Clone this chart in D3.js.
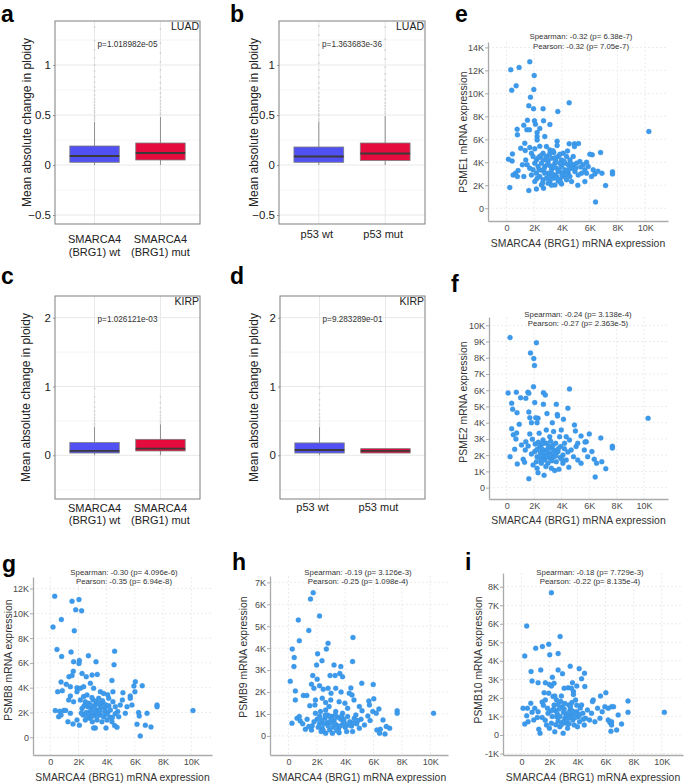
<!DOCTYPE html>
<html lang="en">
<head>
<meta charset="UTF-8">
<title>Ploidy change and proteasome gene expression</title>
<script src="https://d3js.org/d3.v7.min.js"></script>
<style>
    body { margin: 0; background: #fff; }
    svg { display: block; font-family: "Liberation Sans", Arial, sans-serif; }
    .letter { font-size: 23px; font-weight: bold; fill: #000; }
    .box-tick text { font-size: 11.5px; fill: #222; }
    .box-tick line { stroke: #999; }
    .box-tick .domain { display: none; }
    .box-title { font-size: 12px; fill: #222; text-anchor: middle; }
    .box-xlab { font-size: 11px; fill: #222; text-anchor: middle; }
    .ptext { font-size: 8.2px; fill: #333; text-anchor: middle; }
    .cancer { font-size: 10.5px; fill: #222; text-anchor: end; }
    .sc-axis text { font-size: 9px; fill: #4a4a4a; }
    .sc-axis line { stroke: #aaa; }
    .sc-axis .domain { stroke: #aaa; stroke-width: 1.3px; }
    .sc-title { font-size: 10.4px; fill: #333; text-anchor: middle; }
    .corr { font-size: 7.8px; fill: #333; text-anchor: middle; }
</style>
</head>
<body>
<div id="chart"></div>
<script>
// ---------- box plot data ----------
const smarcaGroups = ["SMARCA4\n(BRG1) wt", "SMARCA4\n(BRG1) mut"];
const p53Groups = ["p53 wt", "p53 mut"];
const boxColors = ["#5151f3", "#e60b3d"];

// [lower whisker, q1, median, q3, upper whisker]
const luadSmarca = [[0, 0.027, 0.09, 0.19, 0.43], [0, 0.05, 0.12, 0.22, 0.48]];
const luadP53 = [[0, 0.027, 0.085, 0.18, 0.43], [0, 0.045, 0.115, 0.22, 0.49]];
const kirpSmarca = [[0, 0.033, 0.063, 0.185, 0.41], [0, 0.063, 0.097, 0.232, 0.45]];
const kirpP53 = [[0, 0.033, 0.077, 0.18, 0.41], [0.033, 0.033, 0.063, 0.097, 0.097]];

const luadSmarcaOut = [
    [0.45, 0.47, 0.49, 0.52, 0.54, 0.57, 0.6, 0.63, 0.66, 0.7, 0.74, 0.78, 0.83, 0.88, 0.94, 1.0, 1.07, 1.15, 1.24, 1.38],
    [0.5, 0.52, 0.55, 0.58, 0.61, 0.64, 0.68, 0.72, 0.77, 0.82, 0.88, 0.95, 1.03, 1.12, 1.22, 1.36]
];
const luadP53Out = [
    [0.44, 0.46, 0.49, 0.51, 0.54, 0.57, 0.6, 0.64, 0.68, 0.72, 0.77, 0.82, 0.88, 0.95, 1.02, 1.1, 1.2, 1.3, 1.39],
    [0.51, 0.53, 0.56, 0.59, 0.62, 0.66, 0.7, 0.74, 0.79, 0.85, 0.91, 0.98, 1.06, 1.15, 1.26, 1.38]
];
const kirpSmarcaOut = [
    [0.43, 0.46, 0.5, 0.54, 0.59, 0.64, 0.7, 0.77, 0.85, 0.97],
    [0.47, 0.5, 0.54, 0.58, 0.63, 0.69, 0.76, 0.85]
];
const kirpP53Out = [
    [0.43, 0.46, 0.5, 0.55, 0.6, 0.66, 0.73, 0.81, 0.9, 0.99],
    []
];

// ---------- scatter data: [SMARCA4, gene] in thousands ----------
const psme1 = [
    [0.31,12.05],[0.91,12.26],[1.68,12.75],[2.0,11.56],[0.38,10.28],[0.7,10.66],[1.97,10.34],[1.73,9.67],[1.61,8.92],[1.95,8.66],
    [2.64,8.66],[3.7,8.42],[4.52,9.18],[0.77,6.88],[0.79,6.39],[1.25,7.23],[1.51,7.67],[1.47,6.83],[1.66,6.83],[2.02,7.61],
    [2.09,7.32],[2.67,7.61],[3.13,7.29],[2.4,6.94],[10.26,6.68],[0.43,4.73],[0.14,4.27],[0.24,1.8],[0.41,4.12],[0.48,2.9],
    [0.65,3.05],[0.84,3.28],[0.79,2.76],[1.03,5.23],[1.32,5.66],[1.35,5.02],[1.15,3.78],[1.25,2.76],[1.61,1.54],[2.16,1.68],
    [2.67,1.74],[3.73,2.38],[5.14,2.0],[6.42,0.55],[7.14,1.97],[6.78,4.85],[6.18,4.65],[6.01,4.7],[7.64,3.17],[7.64,2.99],
    [6.88,3.05],[6.25,3.34],[6.37,2.99],[6.59,3.22],[4.52,5.61],[4.9,5.61],[5.19,5.63],[4.9,5.37],[4.4,4.99],[3.65,5.84],
    [3.65,5.46],[2.76,6.24],[2.21,6.24],[2.21,5.95],[2.21,6.59],[2.4,5.4],[1.68,5.29],[1.8,4.79],[1.92,4.5],[2.04,5.17],
    [2.88,5.37],[3.13,5.08],[3.41,4.85],[2.16,4.21],[2.4,4.5],[2.64,4.79],[2.88,4.5],[3.0,4.07],[3.25,4.36],[3.49,3.92],
    [3.73,4.5],[3.97,4.21],[4.21,3.92],[4.09,4.79],[4.33,4.5],[4.57,4.21],[4.81,3.78],[5.05,3.92],[5.29,4.07],[5.53,3.78],
    [5.77,4.01],[5.89,3.63],[5.65,3.34],[5.41,3.05],[5.17,2.9],[4.93,3.19],[4.69,3.49],[4.45,3.05],[4.21,3.34],[3.97,3.63],
    [3.73,3.19],[3.49,2.9],[3.25,3.34],[3.0,3.05],[2.76,3.63],[2.52,3.92],[2.28,3.63],[2.04,3.92],[1.92,3.34],[2.16,3.05],
    [2.4,2.76],[2.64,2.47],[2.88,2.61],[3.13,2.32],[3.37,2.61],[3.61,2.76],[3.85,2.47],[4.09,2.76],[4.33,2.47],[4.57,2.76],
    [3.97,2.12],[3.49,2.03],[3.0,2.18],[2.52,2.03],[2.04,2.32],[1.8,2.9],[1.68,3.49],[1.49,3.78],[1.39,4.21],[2.64,4.21],
    [3.37,3.63],[3.85,3.92],[4.45,3.78],[4.81,4.5],[2.76,3.05],[3.61,3.49],[4.33,3.19],[4.69,2.32],[5.65,2.32],[6.13,2.76],
    [5.77,3.05],[3.1,4.7],[3.55,4.15],[2.95,3.8],[4.6,3.95],[3.3,2.95],[4.05,3.05],[2.3,4.4],[3.85,4.7],[2.55,3.3],
    [2.5,4.6],[2.7,3.4],[3.15,3.7],[3.5,4.4],[3.8,3.3],[4.15,4.1],[4.5,3.4],[2.9,4.25],[3.35,5.0],[4.0,2.9],
    [2.35,3.35],[3.05,2.7],[3.7,2.55],[4.3,2.9],[2.6,2.2],[3.25,2.0],[5.0,3.5],[5.35,3.6],[2.2,2.6],[3.9,2.25]
];
const psme2 = [
    [0.24,9.24],[2.16,8.93],[1.73,8.3],[1.97,7.95],[2.02,7.52],[1.95,6.22],[4.57,6.08],[10.29,4.27],[0.1,5.83],[0.7,5.87],
    [0.36,5.2],[0.43,4.83],[0.75,4.62],[1.01,5.54],[1.39,5.5],[1.54,5.87],[1.61,5.81],[2.04,5.24],[2.67,5.85],[2.81,5.71],
    [2.67,5.13],[3.61,5.13],[3.68,4.5],[3.7,4.41],[2.93,4.56],[2.28,4.27],[2.11,4.31],[1.68,4.31],[1.61,4.66],[1.8,4.0],
    [2.21,4.0],[0.91,3.9],[0.36,3.63],[0.48,3.26],[0.72,3.37],[0.67,3.0],[0.58,2.36],[0.24,1.91],[0.77,1.46],[1.2,1.75],
    [1.3,1.56],[1.61,0.55],[2.72,0.76],[6.44,0.66],[7.21,1.17],[7.69,2.55],[7.69,2.44],[6.85,3.06],[6.01,3.31],[5.79,2.83],
    [5.7,2.81],[4.93,3.86],[5.0,3.49],[4.13,4.21],[4.45,4.89],[3.32,4.0],[1.08,2.63],[1.35,2.32],[1.39,2.83],[1.56,2.57],
    [1.68,3.31],[1.87,2.98],[2.07,2.69],[2.04,2.22],[2.21,1.91],[1.92,1.4],[2.21,1.19],[2.28,0.92],[2.52,1.5],[2.76,1.7],
    [2.4,2.53],[2.64,2.32],[2.88,2.73],[3.08,2.12],[3.25,2.42],[3.41,1.91],[3.56,2.73],[3.73,2.22],[3.92,2.53],[4.09,2.01],
    [3.0,1.5],[3.25,1.19],[3.49,1.05],[3.8,1.13],[4.09,1.5],[4.33,1.7],[4.52,1.25],[4.69,2.32],[4.86,1.91],[5.05,2.53],
    [5.17,1.7],[5.41,1.5],[5.65,2.32],[5.89,1.91],[6.2,2.22],[6.37,1.75],[6.54,1.5],[6.92,1.6],[4.33,3.14],[4.57,2.94],
    [4.21,2.73],[3.85,3.14],[3.13,3.14],[2.64,2.94],[2.36,3.35],[2.88,3.55],[3.41,3.45],[3.97,3.55],[5.41,3.18],[5.17,2.73],
    [2.52,1.7],[3.13,1.81],[3.61,1.6],[2.16,1.6],[1.8,2.07],[2.95,2.35],[3.35,2.6],[2.45,2.15],[3.9,1.85],[2.7,1.95],
    [3.2,2.85],[4.45,2.2],[2.3,2.8],[3.6,2.1],[2.85,1.3],[2.55,2.4],[3.05,2.55],[3.45,2.3],[2.75,2.15],[3.3,1.65],
    [2.4,1.85],[3.75,2.4],[4.2,2.4],[2.9,1.9],[3.55,1.95],[2.6,2.7],[3.15,2.0],[2.2,2.35],[4.0,1.75],[3.4,2.15]
];
const psmb8 = [
    [0.31,11.38],[1.54,10.98],[2.03,11.11],[1.8,10.28],[2.22,10.2],[0.78,9.5],[0.19,8.89],[1.7,8.59],[0.47,7.09],[0.8,6.52],
    [1.47,6.87],[2.06,6.2],[2.03,5.96],[2.7,6.58],[3.24,6.09],[4.56,6.95],[4.52,5.85],[1.65,6.09],[1.63,5.32],[1.32,4.89],
    [1.54,4.99],[2.25,5.15],[2.55,4.89],[2.96,5.02],[3.33,5.07],[4.37,4.59],[0.76,4.46],[0.52,3.68],[0.85,3.76],[1.13,4.27],
    [1.42,4.08],[1.89,4.0],[2.13,3.95],[1.89,3.68],[2.36,4.08],[2.84,4.35],[3.07,3.95],[3.55,3.68],[3.78,3.54],[4.07,3.44],
    [4.44,3.68],[5.15,3.6],[6.03,4.48],[5.93,4.13],[6.52,4.16],[6.0,3.68],[5.67,3.33],[5.67,3.14],[5.11,3.01],[7.57,2.6],
    [7.57,2.47],[10.12,2.15],[6.86,1.93],[6.26,1.99],[6.31,1.72],[6.15,1.05],[6.74,0.97],[7.14,0.83],[6.38,0.11],[0.35,2.15],
    [0.66,2.09],[0.95,2.17],[1.09,2.17],[0.59,1.66],[0.76,1.8],[1.25,1.26],[1.42,1.93],[1.61,1.07],[1.89,1.4],[2.06,0.97],
    [3.19,0.75],[3.07,0.75],[3.95,0.75],[4.56,0.94],[4.73,0.81],[2.48,2.87],[2.65,2.47],[2.84,2.07],[3.03,3.01],[3.19,2.6],
    [3.36,2.2],[3.55,1.8],[3.74,2.79],[3.9,2.39],[4.07,1.99],[4.26,1.61],[4.44,2.87],[4.61,2.47],[4.78,2.07],[4.96,2.6],
    [2.79,1.53],[2.98,1.26],[3.31,1.4],[3.66,1.26],[4.02,1.4],[4.37,1.26],[2.32,1.8],[2.48,1.4],[2.25,2.33],[2.36,3.28],
    [2.6,3.41],[3.43,3.14],[4.14,3.14],[5.44,2.47],[5.79,2.6],[5.32,1.93],[4.85,1.66],[3.07,1.8],[3.78,1.66],[2.72,2.74],
    [3.55,2.6],[4.26,2.2],[3.19,2.07],[2.13,3.01],[1.65,2.87],[1.3,3.01],[1.42,3.33],[2.9,2.3],[3.4,1.95],[3.95,2.6],
    [2.55,2.0],[3.25,2.9],[4.6,1.9],[2.95,1.7],[3.6,2.4],[2.7,1.8],[3.1,2.45],[3.5,2.15],[2.85,2.6],[3.85,2.05],
    [2.4,2.55],[3.3,1.65],[4.15,2.55],[2.6,1.6],[3.7,2.95],[4.4,1.6],[2.2,1.95],[3.45,2.75],[4.0,1.85],[2.95,3.2]
];
const psmb9 = [
    [1.74,6.53],[1.55,6.24],[2.19,5.47],[0.69,5.28],[1.43,4.81],[0.76,4.34],[4.55,4.49],[2.79,4.22],[2.67,3.96],[0.26,3.96],
    [0.4,3.57],[0.38,3.16],[2.05,3.74],[2.36,3.43],[1.98,3.23],[3.21,3.23],[3.69,3.16],[4.52,3.39],[0.12,2.49],[1.71,2.75],
    [2.02,2.58],[2.93,2.75],[3.29,2.75],[3.62,2.85],[3.81,2.7],[5.17,2.4],[5.98,2.34],[0.48,2.05],[0.48,1.64],[1.62,2.35],
    [1.79,2.17],[2.19,2.29],[2.45,2.13],[2.79,2.17],[3.0,1.94],[3.33,2.17],[3.71,2.0],[4.29,1.94],[4.4,2.19],[4.48,1.87],
    [1.05,1.84],[1.29,1.84],[1.5,1.38],[1.9,1.64],[2.38,1.72],[2.62,1.52],[2.98,1.64],[3.57,1.56],[3.98,1.49],[4.17,1.26],
    [4.62,1.64],[5.0,1.34],[5.19,1.15],[5.67,1.59],[5.71,1.41],[6.02,1.69],[6.38,1.23],[5.95,1.11],[7.67,1.15],[7.67,1.03],
    [10.24,1.03],[0.24,0.58],[0.6,0.8],[0.76,0.88],[0.83,0.68],[1.19,0.3],[1.0,0.55],[1.31,0.76],[1.43,0.43],[1.62,0.27],
    [1.9,1.03],[2.02,0.76],[2.19,0.55],[2.38,0.35],[2.57,0.8],[2.74,0.61],[2.9,0.27],[3.05,0.88],[3.21,0.7],[3.38,0.5],
    [3.52,0.3],[3.69,0.76],[3.86,0.58],[4.0,0.4],[4.17,0.88],[4.33,0.65],[4.52,0.2],[4.64,0.8],[4.81,0.55],[5.0,0.35],
    [5.12,0.76],[5.36,0.5],[5.6,0.91],[5.76,0.7],[6.19,1.03],[6.24,0.27],[6.48,0.3],[6.43,0.12],[6.81,0.09],[6.9,0.43],
    [7.14,0.35],[6.67,0.73],[2.26,1.11],[2.62,1.18],[3.33,1.11],[3.81,1.03],[1.86,1.41],[2.86,1.34],[1.67,0.46],[2.62,0.12],
    [3.1,0.12],[3.57,0.15],[2.5,0.55],[2.95,0.6],[3.45,0.85],[4.1,0.2],[2.2,0.9],[3.15,0.4],[3.9,0.75],[2.75,0.95],
    [4.45,0.45],[1.8,0.65],[3.3,0.95],[2.45,0.25],[4.75,0.95],[2.35,0.7],[2.8,0.45],[3.25,0.55],[3.65,0.45],[4.25,0.5],
    [2.1,0.4],[3.0,0.75],[3.75,0.9],[2.6,0.95],[4.6,0.6],[3.4,0.25],[2.9,0.9],[3.95,0.6],[2.3,0.2],[4.9,0.7]
];
const psmb10 = [
    [2.14,7.68],[0.38,5.88],[2.76,5.31],[1.02,4.68],[1.5,4.77],[1.95,4.89],[0.24,4.26],[2.02,4.33],[2.62,4.39],[3.48,3.71],
    [4.12,3.58],[0.69,3.42],[1.38,3.51],[2.62,3.51],[2.93,3.31],[4.5,3.33],[4.29,3.04],[2.21,3.11],[0.76,2.91],[1.19,2.82],
    [1.71,2.82],[2.0,2.73],[2.14,2.64],[2.33,2.79],[3.05,2.52],[3.33,2.55],[3.57,2.52],[3.64,2.82],[3.95,2.64],[4.52,2.61],
    [3.71,2.34],[3.71,2.19],[5.64,2.1],[6.02,2.28],[7.6,1.83],[7.6,1.22],[10.19,1.22],[5.12,1.89],[5.07,1.8],[0.12,1.44],
    [0.43,1.44],[0.67,1.71],[0.76,1.22],[0.38,1.04],[0.24,0.59],[0.48,0.72],[0.88,0.81],[1.14,0.95],[1.24,0.31],[1.33,0.09],
    [1.48,0.95],[1.48,1.78],[1.57,1.6],[1.71,1.89],[1.86,1.44],[1.9,1.17],[1.79,0.54],[2.0,0.36],[2.14,0.63],[2.26,2.07],
    [2.33,1.62],[2.43,1.31],[2.52,0.99],[2.62,0.76],[2.74,0.45],[2.81,1.8],[2.9,1.53],[3.0,1.21],[3.1,0.9],[3.19,0.63],
    [3.29,0.36],[3.38,1.62],[3.48,1.38],[3.57,1.08],[3.67,0.81],[3.76,0.54],[3.86,1.89],[3.95,1.26],[4.05,0.99],[4.14,0.72],
    [4.29,1.62],[4.38,1.17],[4.48,0.54],[4.57,0.9],[4.71,1.35],[4.86,0.81],[5.0,1.17],[5.24,0.72],[5.43,1.44],[5.6,0.9],
    [5.76,1.26],[5.95,1.53],[6.19,1.44],[6.43,1.53],[6.57,1.53],[6.19,0.81],[6.31,0.68],[6.43,0.72],[6.43,0.54],[6.38,0.2],
    [6.79,0.27],[6.9,1.08],[7.14,0.59],[2.38,2.1],[1.62,2.28],[1.95,2.25],[1.19,1.26],[0.95,1.44],[2.38,0.18],[2.98,0.09],
    [2.55,1.15],[3.2,1.05],[2.7,1.4],[3.45,0.95],[2.95,0.7],[3.85,0.95],[4.2,1.45],[2.2,1.0],[3.6,1.75],[2.45,0.55],
    [3.1,1.7],[4.0,0.45],[1.7,0.8],[2.85,2.1],[3.35,1.2],[2.6,1.65],[3.05,1.4],[3.5,1.55],[2.75,1.0],[3.25,0.8],
    [3.8,1.2],[4.15,1.1],[2.3,1.4],[2.85,0.55],[3.4,0.6],[3.95,1.6],[2.1,1.3],[4.4,0.85],[3.65,1.3],[2.5,1.9]
];

// ---------- canvas ----------
const W = 685, H = 783;
const svg = d3.select("#chart").append("svg")
    .attr("width", W).attr("height", H);
svg.append("rect").attr("width", W).attr("height", H).attr("fill", "#fff");

// ---------- box plot panels ----------
function boxPanel(c) {
    const g = svg.append("g");
    const x = d3.scalePoint().domain(c.groups).range([c.left, c.right]).padding(0.6);
    const y = d3.scaleLinear().domain(c.yDomain).range([c.bottom, c.top]);
    const bw = x.step() * 0.75;

    // grid
    g.selectAll(".minor").data(c.minor).join("line")
        .attr("x1", c.left).attr("x2", c.right)
        .attr("y1", d => y(d)).attr("y2", d => y(d))
        .attr("stroke", "#f3f3f3").attr("stroke-width", 0.8);
    g.selectAll(".major").data(c.ticks).join("line")
        .attr("x1", c.left).attr("x2", c.right)
        .attr("y1", d => y(d)).attr("y2", d => y(d))
        .attr("stroke", "#e8e8e8").attr("stroke-width", 1);
    g.selectAll(".vgrid").data(c.groups).join("line")
        .attr("x1", d => x(d)).attr("x2", d => x(d))
        .attr("y1", c.top).attr("y2", c.bottom)
        .attr("stroke", "#e8e8e8").attr("stroke-width", 1);

    // y axis
    g.append("g").attr("class", "box-tick")
        .attr("transform", `translate(${c.left},0)`)
        .call(d3.axisLeft(y).tickValues(c.ticks).tickSize(2).tickPadding(2).tickFormat(d3.format("")));

    // outliers
    c.groups.forEach((grp, i) => {
        g.selectAll(null).data(c.out[i]).join("circle")
            .attr("cx", x(grp)).attr("cy", d => y(d)).attr("r", 0.9)
            .attr("fill", "#bdbdbd").attr("opacity", 0.55);
    });

    // whiskers + boxes
    const rows = c.groups.map((grp, i) => ({ grp, s: c.stats[i], col: boxColors[i] }));
    g.selectAll(".whisk").data(rows).join("line")
        .attr("x1", d => x(d.grp)).attr("x2", d => x(d.grp))
        .attr("y1", d => y(d.s[0])).attr("y2", d => y(d.s[4]))
        .attr("stroke", "#8f8f8f").attr("stroke-width", 1);
    g.selectAll(".box").data(rows).join("rect")
        .attr("x", d => x(d.grp) - bw / 2).attr("width", bw)
        .attr("y", d => y(d.s[3])).attr("height", d => y(d.s[1]) - y(d.s[3]))
        .attr("fill", d => d.col).attr("stroke", "#7d7d7d").attr("stroke-width", 0.8);
    g.selectAll(".med").data(rows).join("line")
        .attr("x1", d => x(d.grp) - bw / 2).attr("x2", d => x(d.grp) + bw / 2)
        .attr("y1", d => y(d.s[2])).attr("y2", d => y(d.s[2]))
        .attr("stroke", "#3a3a3a").attr("stroke-width", 1.8);

    // frame
    g.append("rect").attr("x", c.left).attr("y", c.top)
        .attr("width", c.right - c.left).attr("height", c.bottom - c.top)
        .attr("fill", "none").attr("stroke", "#7f7f7f").attr("stroke-width", 1);

    // texts
    g.append("text").attr("class", "cancer")
        .attr("x", c.right - 1).attr("y", c.top + 9).text(c.cancer);
    g.append("text").attr("class", "ptext")
        .attr("x", (c.left + c.right) / 2).attr("y", c.top + 26).text(c.p);
    g.append("text").attr("class", "box-title")
        .attr("transform", `translate(${c.titleX},${(c.top + c.bottom) / 2}) rotate(-90)`)
        .attr("dy", "0.35em").text("Mean absolute change in ploidy");
    c.groups.forEach(grp => {
        const t = g.append("text").attr("class", "box-xlab")
            .attr("x", x(grp) + c.labDx).attr("y", c.labY);
        grp.split("\n").forEach((line, k) => {
            t.append("tspan").attr("x", x(grp) + c.labDx).attr("dy", k ? 12.5 : 0).text(line);
        });
    });
    g.append("text").attr("class", "letter").attr("x", c.letterX).attr("y", c.letterY).text(c.letter);
}

const luadTicks = [-0.5, 0, 0.5, 1], luadMinor = [-0.25, 0.25, 0.75, 1.25];
const kirpTicks = [0, 1, 2], kirpMinor = [-0.5, 0.5, 1.5];

boxPanel({ letter: "a", letterX: 1, letterY: 22, left: 55, right: 200, top: 21, bottom: 224,
    yDomain: [-0.59, 1.44], ticks: luadTicks, minor: luadMinor, groups: smarcaGroups,
    stats: luadSmarca, out: luadSmarcaOut, cancer: "LUAD", p: "p=1.018982e-05",
    titleX: 27, labY: 243, labDx: 0 });
boxPanel({ letter: "b", letterX: 230, letterY: 22, left: 279, right: 425, top: 21, bottom: 224,
    yDomain: [-0.59, 1.44], ticks: luadTicks, minor: luadMinor, groups: p53Groups,
    stats: luadP53, out: luadP53Out, cancer: "LUAD", p: "p=1.363683e-36",
    titleX: 254, labY: 238, labDx: -2 });
boxPanel({ letter: "c", letterX: 1, letterY: 284, left: 55, right: 200, top: 296, bottom: 499,
    yDomain: [-0.635, 2.315], ticks: kirpTicks, minor: kirpMinor, groups: smarcaGroups,
    stats: kirpSmarca, out: kirpSmarcaOut, cancer: "KIRP", p: "p=1.026121e-03",
    titleX: 26, labY: 511.5, labDx: 0 });
boxPanel({ letter: "d", letterX: 230, letterY: 284, left: 280, right: 425, top: 296, bottom: 499,
    yDomain: [-0.635, 2.315], ticks: kirpTicks, minor: kirpMinor, groups: p53Groups,
    stats: kirpP53, out: kirpP53Out, cancer: "KIRP", p: "p=9.283289e-01",
    titleX: 254, labY: 511, labDx: -7 });

// ---------- scatter panels ----------
const kFmt = d => d === 0 ? "0" : d + "K";
const xTicks = [0, 2, 4, 6, 8, 10];

function scatterPanel(c) {
    const g = svg.append("g");
    const x = d3.scaleLinear().domain(c.xDomain).range([c.left, c.right]);
    const y = d3.scaleLinear().domain(c.yDomain).range([c.bottom, c.top]);

    g.selectAll(".gx").data(xTicks).join("line")
        .attr("x1", d => x(d)).attr("x2", d => x(d))
        .attr("y1", c.top).attr("y2", c.bottom)
        .attr("stroke", "#ececec").attr("stroke-dasharray", "2,2");
    g.selectAll(".gy").data(c.yTicks).join("line")
        .attr("x1", c.left).attr("x2", c.right)
        .attr("y1", d => y(d)).attr("y2", d => y(d))
        .attr("stroke", "#ececec").attr("stroke-dasharray", "2,2");

    g.append("g").attr("class", "sc-axis")
        .attr("transform", `translate(0,${c.bottom})`)
        .call(d3.axisBottom(x).tickValues(xTicks).tickFormat(kFmt).tickSize(0).tickSizeOuter(0).tickPadding(4));
    g.append("g").attr("class", "sc-axis")
        .attr("transform", `translate(${c.left},0)`)
        .call(d3.axisLeft(y).tickValues(c.yTicks).tickFormat(kFmt).tickSize(3).tickSizeOuter(0).tickPadding(1));

    g.selectAll(".pt").data(c.data).join("circle")
        .attr("cx", d => x(d[0])).attr("cy", d => y(d[1])).attr("r", 2.5)
        .attr("fill", "#3d9aea").attr("stroke", "#2f8be0").attr("stroke-width", 0.3);

    g.append("text").attr("class", "corr").attr("x", c.titleCx).attr("y", c.corrY).text(c.spearman);
    g.append("text").attr("class", "corr").attr("x", c.titleCx).attr("y", c.corrY + 9.5).text(c.pearson);
    g.append("text").attr("class", "sc-title")
        .attr("x", (c.left + c.right) / 2).attr("y", c.xTitleY)
        .text("SMARCA4 (BRG1) mRNA expression");
    g.append("text").attr("class", "sc-title")
        .attr("transform", `translate(${c.yTitleX},${c.yTitleY}) rotate(-90)`)
        .attr("dy", "0.35em").text(c.gene + " mRNA expression");
    g.append("text").attr("class", "letter").attr("x", c.letterX).attr("y", c.letterY).text(c.letter);
}

scatterPanel({ letter: "e", letterX: 455, letterY: 22, gene: "PSME1", data: psme1,
    left: 488, right: 668, top: 42, bottom: 221, xDomain: [-1.33, 11.64], yDomain: [-1.11, 14.47],
    yTicks: [0, 2, 4, 6, 8, 10, 12, 14], titleCx: 581, corrY: 39,
    spearman: "Spearman: -0.32 (p= 6.38e-7)", pearson: "Pearson: -0.32 (p= 7.05e-7)",
    xTitleY: 247, yTitleX: 463, yTitleY: 132 });
scatterPanel({ letter: "f", letterX: 451, letterY: 292, gene: "PSME2", data: psme2,
    left: 489, right: 668, top: 317, bottom: 499, xDomain: [-1.29, 11.74], yDomain: [-0.7, 10.51],
    yTicks: [0, 1, 2, 3, 4, 5, 6, 7, 8, 9, 10], titleCx: 578, corrY: 316.5,
    spearman: "Spearman: -0.24 (p= 3.138e-4)", pearson: "Pearson: -0.27 (p= 2.363e-5)",
    xTitleY: 524, yTitleX: 463, yTitleY: 402 });
scatterPanel({ letter: "g", letterX: 2, letterY: 572, gene: "PSMB8", data: psmb8,
    left: 33, right: 212, top: 577, bottom: 755, xDomain: [-1.23, 11.47], yDomain: [-1.43, 12.93],
    yTicks: [0, 2, 4, 6, 8, 10, 12], titleCx: 124, corrY: 574.5,
    spearman: "Spearman: -0.30 (p= 4.096e-6)", pearson: "Pearson: -0.35 (p= 6.94e-8)",
    xTitleY: 781, yTitleX: 8, yTitleY: 660 });
scatterPanel({ letter: "h", letterX: 232, letterY: 570, gene: "PSMB9", data: psmb9,
    left: 270, right: 448, top: 576, bottom: 755, xDomain: [-1.31, 11.26], yDomain: [-0.87, 7.29],
    yTicks: [0, 1, 2, 3, 4, 5, 6, 7], titleCx: 358, corrY: 574.5,
    spearman: "Spearman: -0.19 (p= 3.126e-3)", pearson: "Pearson: -0.25 (p= 1.098e-4)",
    xTitleY: 781, yTitleX: 243, yTitleY: 657 });
scatterPanel({ letter: "i", letterX: 465, letterY: 570, gene: "PSMB10", data: psmb10,
    left: 503, right: 683, top: 573, bottom: 755, xDomain: [-1.31, 11.52], yDomain: [-1.08, 8.74],
    yTicks: [-1, 0, 1, 2, 3, 4, 5, 6, 7, 8], titleCx: 590, corrY: 574.5,
    spearman: "Spearman: -0.18 (p= 7.729e-3)", pearson: "Pearson: -0.22 (p= 8.135e-4)",
    xTitleY: 781, yTitleX: 478, yTitleY: 660 });
</script>
</body>
</html>
